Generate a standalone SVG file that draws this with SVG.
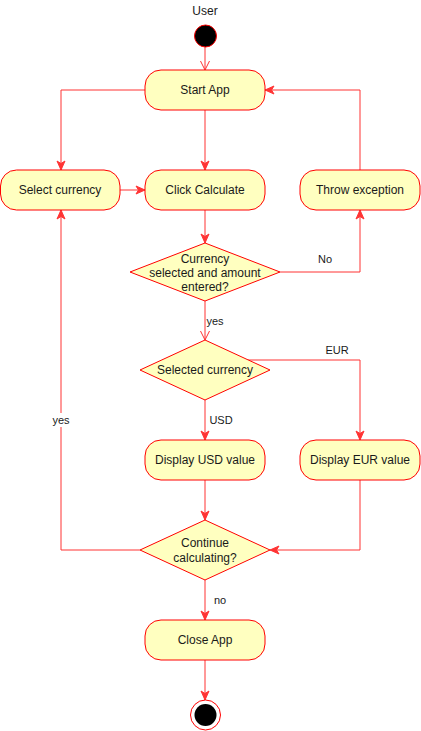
<svg xmlns="http://www.w3.org/2000/svg" width="421" height="731" viewBox="0 0 421 731">
<style>
.n{fill:#ffffc0;stroke:#ff0000;stroke-width:1}
.t{font-family:"Liberation Sans",Arial,sans-serif;font-size:12px;fill:#1a1a1a;text-anchor:middle}
.l{font-family:"Liberation Sans",Arial,sans-serif;font-size:11px;fill:#1a1a1a;text-anchor:middle}
.e{fill:none;stroke:#ff3333;stroke-width:1}
.ea{marker-end:url(#a)}
.eo{marker-end:url(#o)}
</style>
<defs>
<marker id="a" markerWidth="12" markerHeight="12" refX="10" refY="6" orient="auto" markerUnits="userSpaceOnUse">
<path d="M1,2 L10,6 L1,10 L3.5,6 Z" fill="#ff3333" stroke="#ff3333" stroke-width="1"/>
</marker>
<marker id="o" markerWidth="12" markerHeight="12" refX="10" refY="6" orient="auto" markerUnits="userSpaceOnUse">
<path d="M1,1.5 L10,6 L1,10.5" fill="none" stroke="#ff3333" stroke-width="1"/>
</marker>
</defs>
<rect width="421" height="731" fill="#ffffff"/>
<g id="edges">
<path class="e eo" d="M205,47 V70"/>
<path class="e ea" d="M205,110 V170"/>
<path class="e ea" d="M145,90 H61 V170"/>
<path class="e ea" d="M120,190 H145"/>
<path class="e ea" d="M360,170 V90 H265"/>
<path class="e ea" d="M205,210 V243"/>
<path class="e ea" d="M280,272 H360 V210"/>
<path class="e eo" d="M205,301 V340"/>
<path class="e ea" d="M205,400 V440"/>
<path class="e ea" d="M248,360 H360 V440"/>
<path class="e ea" d="M205,480 V520"/>
<path class="e ea" d="M360,480 V550 H270"/>
<path class="e ea" d="M140,550 H61 V210"/>
<path class="e ea" d="M205,580 V620"/>
<path class="e ea" d="M205,660 V700"/>
<text class="l" x="325" y="263">No</text>
<text class="l" x="215" y="325">yes</text>
<text class="l" x="221" y="424">USD</text>
<text class="l" x="337" y="354">EUR</text>
<rect x="50" y="413" width="22" height="14" fill="#ffffff"/>
<text class="l" x="61" y="424">yes</text>
<text class="l" x="220" y="604">no</text>
</g>
<g id="start">
<text class="t" x="205" y="15">User</text>
<circle cx="205.5" cy="36" r="11" fill="#000000" stroke="#ff0000"/>
</g>
<g id="startApp">
<rect class="n" x="145" y="70" width="120" height="40" rx="16" ry="16"/>
<text class="t" x="205" y="94">Start App</text>
</g>
<g id="selectCurrency">
<rect class="n" x="0.5" y="170" width="119.5" height="40" rx="16" ry="16"/>
<text class="t" x="60" y="194">Select currency</text>
</g>
<g id="clickCalculate">
<rect class="n" x="145" y="170" width="120" height="40" rx="16" ry="16"/>
<text class="t" x="205" y="194">Click Calculate</text>
</g>
<g id="throwException">
<rect class="n" x="300" y="170" width="120" height="40" rx="16" ry="16"/>
<text class="t" x="360" y="194">Throw exception</text>
</g>
<g id="check">
<polygon class="n" points="205,243 280,272 205,301 130,272"/>
<text class="t" x="205" y="263">Currency</text>
<text class="t" x="205" y="277">selected and amount</text>
<text class="t" x="205" y="291">entered?</text>
</g>
<g id="selectedCurrency">
<polygon class="n" points="205,340 270,370 205,400 140,370"/>
<text class="t" x="205" y="374">Selected currency</text>
</g>
<g id="displayUSD">
<rect class="n" x="145" y="440" width="120" height="40" rx="16" ry="16"/>
<text class="t" x="205" y="464">Display USD value</text>
</g>
<g id="displayEUR">
<rect class="n" x="300" y="440" width="120" height="40" rx="16" ry="16"/>
<text class="t" x="360" y="464">Display EUR value</text>
</g>
<g id="continue">
<polygon class="n" points="205,520 270,550 205,580 140,550"/>
<text class="t" x="205" y="547">Continue</text>
<text class="t" x="205" y="562">calculating?</text>
</g>
<g id="closeApp">
<rect class="n" x="145" y="620" width="120" height="40" rx="16" ry="16"/>
<text class="t" x="205" y="644">Close App</text>
</g>
<g id="end">
<circle cx="205.5" cy="715" r="15" fill="#ffffff" stroke="#ff0000"/>
<circle cx="205.5" cy="715" r="11" fill="#000000"/>
</g>
</svg>
